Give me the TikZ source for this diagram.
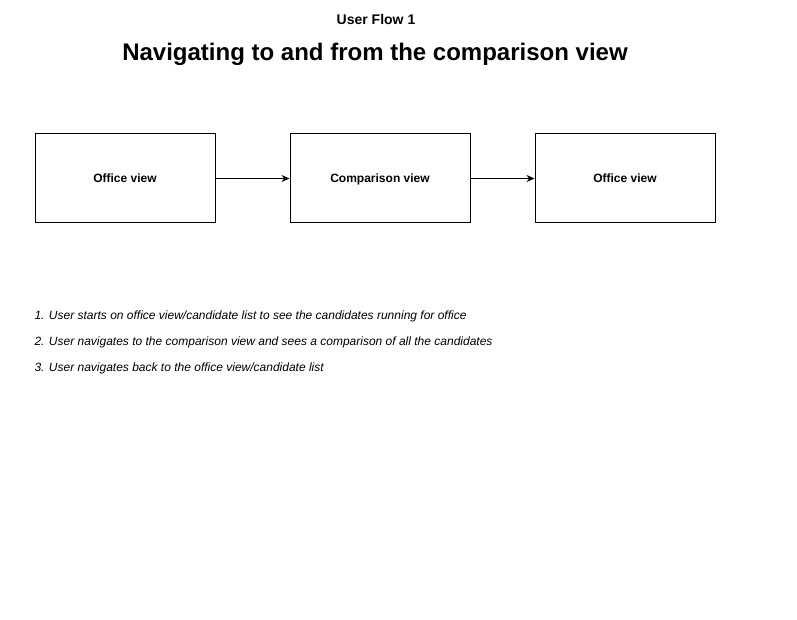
\documentclass[tikz,border=0pt]{standalone}
\usepackage{fontspec}
\setmainfont{Liberation Sans}
\usetikzlibrary{arrows.meta}

\begin{document}
\begin{tikzpicture}[x=1pt,y=-1pt,line width=1pt,
  screen/.style={draw,rectangle,minimum width=180pt,minimum height=89pt,
    inner sep=0pt,text height=9pt,text depth=0.5pt,
    font=\fontsize{12}{14}\selectfont\bfseries},
  step text/.style={anchor=west,inner sep=0pt,font=\fontsize{12}{14}\selectfont\itshape},
  >={Stealth[length=8pt,width=7pt]}]
  \useasboundingbox (0,0) rectangle (797,620);
  % headings
  \node[font=\fontsize{14}{16}\selectfont\bfseries] (flow) at (376,19) {User Flow 1};
  \node[font=\fontsize{24}{28}\selectfont\bfseries] (title) at (375,54) {Navigating to and from the comparison view};
  % screens
  \node[screen] (office1) at (125,178.5) {Office view};
  \node[screen] (compare) at (380,178.5) {Comparison view};
  \node[screen] (office2) at (625,178.5) {Office view};
  % transitions
  \draw[->] (office1) -- (compare);
  \draw[->] (compare) -- (office2);
  % steps
  \node[step text] (s1) at (34,316) {1. User starts on office view/candidate list to see the candidates running for office};
  \node[step text] (s2) at (34,342) {2. User navigates to the comparison view and sees a comparison of all the candidates};
  \node[step text] (s3) at (34,368) {3. User navigates back to the office view/candidate list};
\end{tikzpicture}
\end{document}
